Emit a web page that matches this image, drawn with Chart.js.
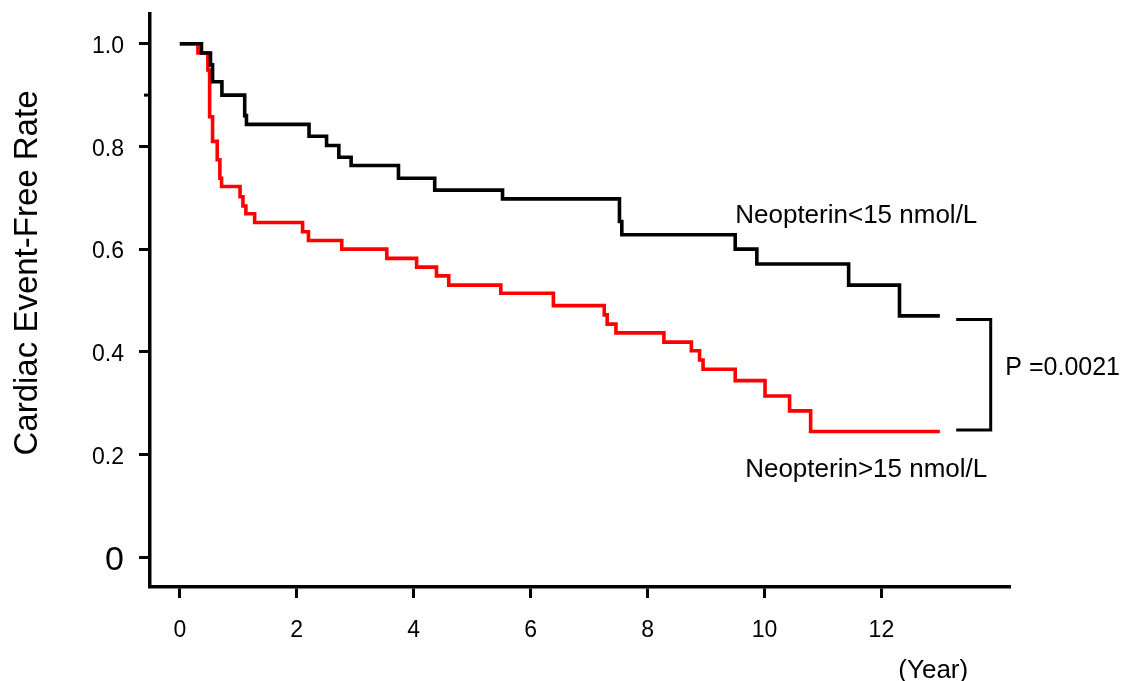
<!DOCTYPE html>
<html>
<head>
<meta charset="utf-8">
<script src="https://cdn.jsdelivr.net/npm/chart.js@4.4.1/dist/chart.umd.min.js"></script>
<style>
  body { margin:0; background:#fff; }
  #wrap { width:1123px; height:681px; position:relative; }
</style>
</head>
<body>
<div id="wrap"><canvas id="km"></canvas></div>
<script>
// Kaplan-Meier steps (time in years, event-free rate)
var lowTimes = [0, 0.37, 0.525, 0.56, 0.72, 1.11, 1.14, 2.21, 2.51, 2.72, 2.93, 3.74, 4.36, 5.52, 7.52, 7.56, 9.50, 9.87, 11.44, 12.31, 13.0];
var lowRates = [1.0, 0.982, 0.959, 0.926, 0.900, 0.860, 0.843, 0.820, 0.802, 0.779, 0.763, 0.738, 0.715, 0.698, 0.654, 0.628, 0.600, 0.571, 0.530, 0.470, 0.470];

var highTimes = [0, 0.31, 0.48, 0.51, 0.56, 0.64, 0.685, 0.714, 1.03, 1.08, 1.13, 1.28, 2.10, 2.20, 2.77, 3.54, 4.05, 4.39, 4.60, 5.49, 6.39, 7.26, 7.31, 7.46, 8.28, 8.75, 8.89, 8.95, 9.50, 10.01, 10.43, 10.79, 13.0];
var highRates = [1.0, 0.982, 0.949, 0.858, 0.810, 0.774, 0.738, 0.722, 0.702, 0.684, 0.669, 0.652, 0.634, 0.617, 0.600, 0.582, 0.565, 0.548, 0.530, 0.514, 0.490, 0.472, 0.454, 0.437, 0.419, 0.402, 0.384, 0.366, 0.344, 0.314, 0.285, 0.245, 0.245];

// p-value bracket between the two curve ends
var bracketTimes = [13.28, 13.87, 13.87, 13.28];
var bracketRates = [0.463, 0.463, 0.248, 0.248];

var xTicks = [0, 2, 4, 6, 8, 10, 12];
var yTicks = [0, 0.2, 0.4, 0.6, 0.8, 1.0];
var yMinorTick = 0.9;

var FONT = "'Liberation Sans', Arial, sans-serif";

function toPoints(xs, ys){
	var pts = [];
	for (var i = 0; i < xs.length; i++) {
		pts.push({x: xs[i], y: ys[i]});
	}
	return pts;
}

// texts placed in data units
var notes = [
	{text: 'Neopterin<15 nmol/L', x: 9.5, y: 0.651, size: 26},
	{text: 'Neopterin>15 nmol/L', x: 9.67, y: 0.156, size: 26},
	{text: 'P =0.0021', x: 14.12, y: 0.354, size: 25},
	{text: '(Year)', x: 12.29, y: -0.236, size: 26}
];

var extras = {
	id: 'extras',
	afterDraw: function(chart){
		var ctx = chart.ctx;
		var xs = chart.scales.x, ys = chart.scales.y;
		ctx.save();
		// minor tick at 0.9
		var py = ys.getPixelForValue(yMinorTick);
		ctx.strokeStyle = '#000';
		ctx.lineWidth = 3;
		ctx.beginPath();
		ctx.moveTo(xs.left - 6, py);
		ctx.lineTo(xs.left, py);
		ctx.stroke();

		ctx.fillStyle = '#000';
		ctx.textAlign = 'left';
		ctx.textBaseline = 'alphabetic';
		for (var i = 0; i < notes.length; i++) {
			var n = notes[i];
			ctx.font = n.size + 'px ' + FONT;
			ctx.fillText(n.text, xs.getPixelForValue(n.x), ys.getPixelForValue(n.y));
		}
		// y title
		ctx.translate(28, 273);
		ctx.rotate(-Math.PI / 2);
		ctx.textAlign = 'center';
		ctx.textBaseline = 'middle';
		ctx.font = '33px ' + FONT;
		ctx.fillText('Cardiac Event-Free Rate', 0, 0);
		ctx.restore();
	}
};

var chart = new Chart(document.getElementById('km'), {
	type: 'line',
	data: {
		datasets: [
			{
				data: toPoints(lowTimes, lowRates),
				borderColor: '#000000',
				borderWidth: 3.6,
				stepped: true,
				pointRadius: 0,
				fill: false
			},
			{
				data: toPoints(highTimes, highRates),
				borderColor: '#ff0000',
				borderWidth: 3.6,
				stepped: true,
				pointRadius: 0,
				fill: false
			},
			{
				data: toPoints(bracketTimes, bracketRates),
				borderColor: '#000000',
				borderWidth: 3,
				pointRadius: 0,
				fill: false,
				borderJoinStyle: 'miter'
			}
		]
	},
	options: {
		responsive: true,
		maintainAspectRatio: false,
		animation: false,
		layout: { padding: { left: 0, top: 14, right: 113, bottom: 0 } },
		plugins: {
			legend: { display: false },
			tooltip: { enabled: false }
		},
		scales: {
			x: {
				type: 'linear',
				min: -0.51,
				max: 14.2,
				afterBuildTicks: function(scale){
					scale.ticks = xTicks.map(function(v){ return {value: v}; });
				},
				afterFit: function(scale){
					scale.height = 94;
					scale.paddingLeft = 0;
					scale.paddingRight = 0;
				},
				border: { display: true, color: '#000', width: 3.5 },
				grid: { display: true, drawOnChartArea: false, drawTicks: true, tickLength: 11, tickWidth: 3, tickColor: '#000' },
				ticks: {
					color: '#000',
					font: { family: FONT, size: 23 },
					padding: 19,
					maxRotation: 0,
					callback: function(v){ return v; }
				}
			},
			y: {
				type: 'linear',
				min: -0.058,
				max: 1.058,
				afterBuildTicks: function(scale){
					scale.ticks = yTicks.map(function(v){ return {value: v}; });
				},
				afterFit: function(scale){
					scale.width = 150;
					scale.paddingTop = 0;
					scale.paddingBottom = 0;
				},
				border: { display: true, color: '#000', width: 3.5 },
				grid: { display: true, drawOnChartArea: false, drawTicks: true, tickLength: 11, tickWidth: 3, tickColor: '#000' },
				ticks: {
					color: '#000',
					padding: 15,
					labelOffset: 3,
					font: function(ctx){
						if (ctx.tick && ctx.tick.value === 0) return { family: FONT, size: 34 };
						return { family: FONT, size: 23 };
					},
					callback: function(v){ return v === 0 ? '0' : v.toFixed(1); }
				}
			}
		}
	},
	plugins: [extras]
});
</script>
</body>
</html>
